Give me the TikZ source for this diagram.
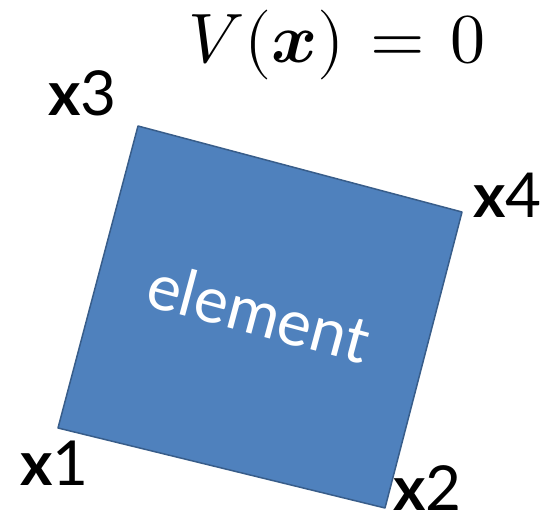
\documentclass[tikz,border=0pt]{standalone}
\usepackage{fontspec}
\usepackage{unicode-math}
\setmainfont{Lato}
\setmathfont{Latin Modern Math}
\definecolor{elemfill}{HTML}{4F81BD}
\definecolor{elemline}{HTML}{385D8A}
\usetikzlibrary{positioning}

\begin{document}
\begin{tikzpicture}[x=1pt,y=-1pt,
corner/.style={anchor=base west,inner sep=0pt,font=\fontsize{62}{70}\selectfont},
elem/.style={draw=elemline,fill=elemfill,line width=1.5pt,line join=round}]
\useasboundingbox (0,0) rectangle (551,519);
\coordinate (c1) at (58,428);
\coordinate (c2) at (385,508);
\coordinate (c4) at (462,212);
\coordinate (c3) at (138,126);
\draw[elem] (c1)--(c2)--(c4)--(c3)--cycle;
\node[rotate=-15,text=white,inner sep=0pt,font=\fontsize{64}{72}\selectfont] (e) at (259,312) {element};
\node[corner] (l1) at (20,485) {\textbf{x}1};
\node[corner] (l2) at (393,510) {\textbf{x}2};
\node[corner] (l3) at (48,115) {\textbf{x}3};
\node[corner] (l4) at (473,217) {\textbf{x}4};
\node[anchor=base,inner sep=0pt,font=\fontsize{70}{80}\selectfont] (v) at (337,63) {$V(\symbfit{x})\mskip1.5mu=\mskip1.5mu0$};
\end{tikzpicture}
\end{document}
